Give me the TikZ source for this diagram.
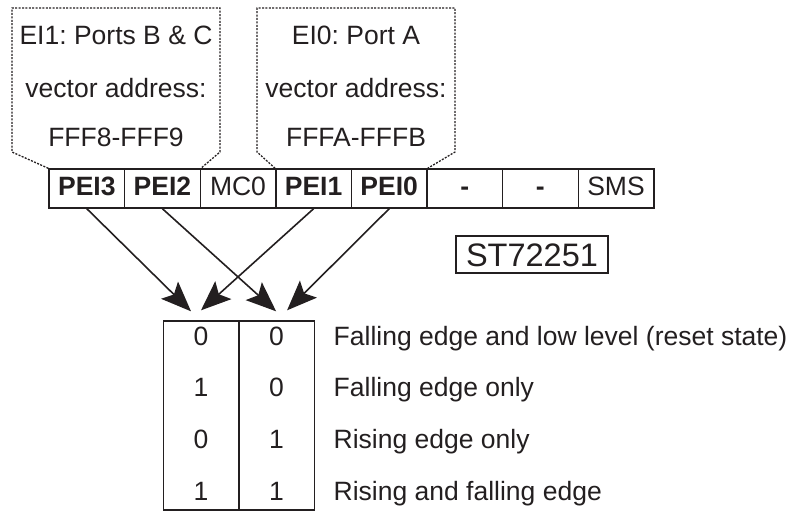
\documentclass[tikz,border=0pt]{standalone}
\usepackage{fontspec}
\setmainfont{Liberation Sans}
\usetikzlibrary{arrows.meta}
\definecolor{inkgray}{RGB}{35,31,32}
\frenchspacing

\begin{document}
\begin{tikzpicture}[x=1pt, y=-1pt, inkgray, line width=1.4pt,
    txt/.style={font=\fontsize{26.5}{30}\selectfont, inner sep=0pt},
    regcell/.style={txt, draw, minimum width=75.6pt, minimum height=39pt,
      text height=19pt, text depth=6pt},
    colbox/.style={draw, minimum width=75.6pt, minimum height=189pt, inner sep=0pt},
    callout/.style={line width=1.3pt, dash pattern=on 2pt off 1.4pt},
    bitarrow/.style={line width=1.6pt, -{Stealth[length=30pt, width=24pt, inset=6pt]}}]
  \useasboundingbox (0,0) rectangle (791,511);

  % register bits
  \foreach \nm/\lab [count=\i] in {pei3/\textbf{PEI3}, pei2/\textbf{PEI2}, mc0/MC0,
      pei1/\textbf{PEI1}, pei0/\textbf{PEI0}, dashb/\textbf{-}, dasha/\textbf{-}, sms/SMS}
    \node[regcell] (\nm) at ({49+75.6*(\i-0.5)}, 188.5) {\lab};

  % callouts
  \draw[callout] (pei3.north west) -- (12,152) -- (12,8) -- (220,8) -- (220,152) -- (pei2.north east);
  \draw[callout] (pei1.north west) -- (257,152) -- (257,8) -- (455,8) -- (455,152) -- (pei0.north east);
  \node[txt, anchor=base] (eione) at (116,45) {EI1: Ports B \& C};
  \node[txt, anchor=base] (veconeb) at (116,97) {vector address:};
  \node[txt, anchor=base] (adrone) at (116,146) {FFF8-FFF9};
  \node[txt, anchor=base] (eizero) at (356,45) {EI0: Port A};
  \node[txt, anchor=base] (veczero) at (356,97) {vector address:};
  \node[txt, anchor=base] (adrzero) at (356,146) {FFFA-FFFB};

  % device name
  \node[draw, font=\fontsize{32.5}{36}\selectfont, inner sep=0pt, minimum width=152pt,
    minimum height=37pt, text height=23.3pt, text depth=0pt] (chip) at (532,254.5) {ST72251};

  % table of edge modes
  \node[colbox] (col3) at (201,415.5) {};
  \node[colbox] (col2) at (276.6,415.5) {};
  \foreach \a/\b/\desc [count=\r] in {0/0/{Falling edge and low level (reset state)},
      1/0/{Falling edge only}, 0/1/{Rising edge only}, 1/1/{Rising and falling edge}} {
    \node[txt, anchor=base] (bitl\r) at (201, {345+51.7*(\r-1)}) {\a};
    \node[txt, anchor=base] (bitr\r) at (276.6, {345+51.7*(\r-1)}) {\b};
    \node[txt, anchor=base west] (mode\r) at (333, {345+51.7*(\r-1)}) {\desc};
  }

  % arrows
  \draw[bitarrow] (pei3.south) -- ([xshift=-10pt, yshift=9pt]col3.north);
  \draw[bitarrow] (pei1.south) -- ([yshift=10pt]col3.north);
  \draw[bitarrow] (pei2.south) -- ([xshift=-0.5pt, yshift=9pt]col2.north);
  \draw[bitarrow] (pei0.south) -- ([xshift=10.5pt, yshift=10pt]col2.north);
\end{tikzpicture}
\end{document}
